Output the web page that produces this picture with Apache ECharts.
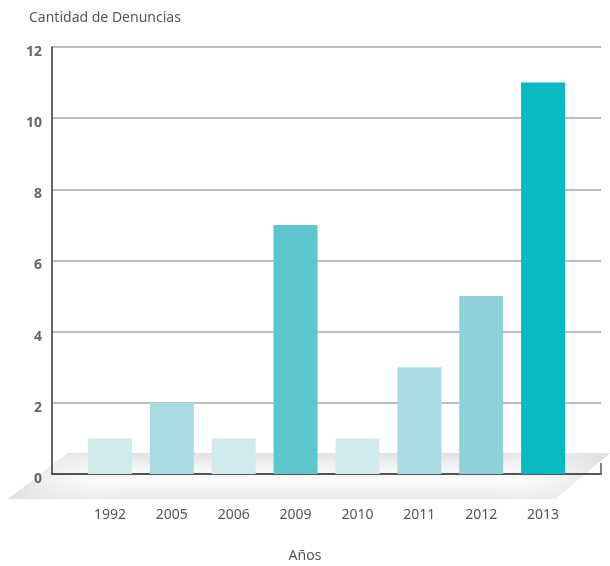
<!DOCTYPE html>
<html>
<head>
<meta charset="utf-8">
<script src="https://cdn.jsdelivr.net/npm/echarts@6/dist/echarts.min.js"></script>
<style>
  html, body { margin: 0; padding: 0; background: #fff; }
  #chart { width: 610px; height: 566px; }
</style>
</head>
<body>
<div id="chart"></div>
<script>
// Denuncias registradas por año
const years = ['1992', '2005', '2006', '2009', '2010', '2011', '2012', '2013'];
const denuncias = [1, 2, 1, 7, 1, 3, 5, 11];
const barColors = ['#d0eaee', '#a8dce2', '#d0eaee', '#5cc5ce', '#d0eaee', '#a8dce2', '#8ed2d9', '#08b9c4'];
const yMin = 0, yMax = 12, yStep = 2;

const FONT = 'Noto Sans';
const chart = echarts.init(document.getElementById('chart'), null, { renderer: 'canvas' });

chart.setOption({
  animation: false,
  backgroundColor: '#ffffff',
  title: {
    text: 'Cantidad de Denuncias',
    left: 24, top: 6,
    textStyle: { fontFamily: FONT, fontSize: 14, fontWeight: 'normal', color: '#555' }
  },
  grid: [
    // frame with grid lines and value labels
    { left: 52, right: 9, top: 47, bottom: 92 },
    // band holding the bars
    { left: 79, right: 36, top: 47, bottom: 92 }
  ],
  xAxis: [
    {
      gridIndex: 0, type: 'value', min: 0, max: 1,
      axisLine: { show: true, lineStyle: { color: '#333', width: 1.5 } },
      axisTick: { show: false }, axisLabel: { show: false }, splitLine: { show: false }
    },
    {
      gridIndex: 1, type: 'category', data: years,
      axisLine: { show: false }, axisTick: { show: false },
      axisLabel: { fontFamily: FONT, fontSize: 14, color: '#555', margin: 34 }
    }
  ],
  yAxis: [
    {
      gridIndex: 0, type: 'value', min: yMin, max: yMax, interval: yStep,
      axisLine: { show: true, lineStyle: { color: '#333', width: 1.5 } },
      axisTick: { show: false },
      splitLine: { show: true, lineStyle: { color: '#a8a8a8', width: 1.5 } },
      axisLabel: {
        fontFamily: FONT, fontSize: 14, fontWeight: 'bold', color: '#666',
        margin: 10, verticalAlign: 'top', lineHeight: 10
      }
    },
    {
      gridIndex: 1, type: 'value', min: yMin, max: yMax, interval: yStep, show: false
    }
  ],
  graphic: [
    {
      // floor under the bars
      type: 'polygon', z: -5, silent: true,
      shape: { points: [[68, 453], [610, 453], [555, 499], [8, 499]] },
      style: {
        fill: new echarts.graphic.LinearGradient(0, 0, 0, 1, [
          { offset: 0, color: '#e1e2e4' },
          { offset: 0.35, color: '#f6f6f7' },
          { offset: 0.6, color: '#fbfbfb' },
          { offset: 1, color: '#eaeaec' }
        ])
      }
    },
    {
      type: 'polygon', z: -4, silent: true,
      shape: { points: [[68, 453], [610, 453], [555, 499], [8, 499]] },
      style: {
        fill: new echarts.graphic.LinearGradient(0, 0, 1, 0, [
          { offset: 0, color: 'rgba(220,221,224,0.9)' },
          { offset: 0.2, color: 'rgba(255,255,255,0)' },
          { offset: 0.8, color: 'rgba(255,255,255,0)' },
          { offset: 1, color: 'rgba(220,221,224,0.9)' }
        ])
      }
    },
    {
      type: 'line', z: 5, silent: true,
      shape: { x1: 601, y1: 463, x2: 601, y2: 474.5 },
      style: { stroke: '#555', lineWidth: 1.5 }
    },
    {
      type: 'text', left: 'center', top: 549, silent: true,
      x: -13,
      style: { text: 'Años', font: '14px "' + FONT + '"', fill: '#555' }
    }
  ],
  series: [
    {
      type: 'bar', xAxisIndex: 1, yAxisIndex: 1,
      barWidth: 44,
      data: denuncias.map((v, i) => ({ value: v, itemStyle: { color: barColors[i] } }))
    }
  ]
});
</script>
</body>
</html>
